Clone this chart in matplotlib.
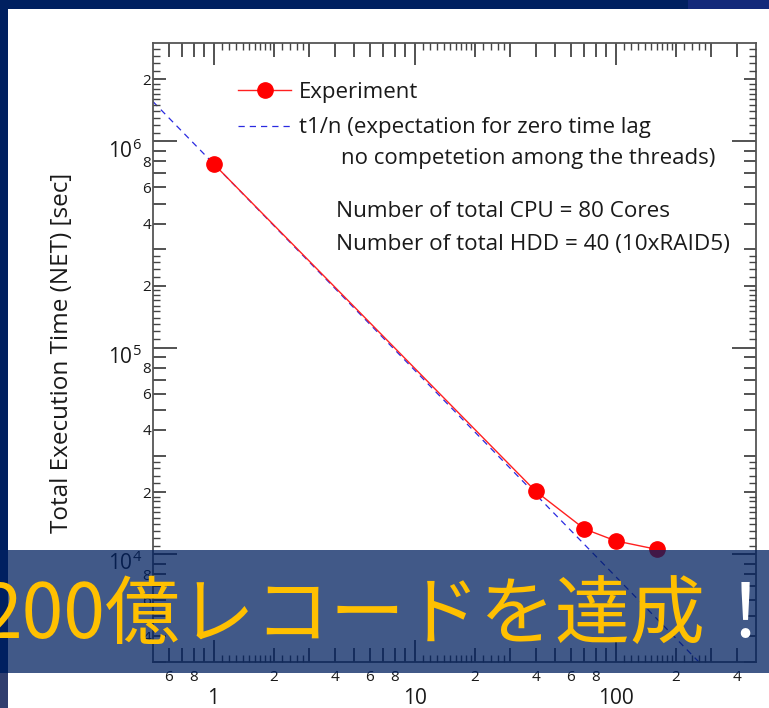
import matplotlib
matplotlib.use('Agg')
import matplotlib.pyplot as plt
from matplotlib.patches import Rectangle
import matplotlib.transforms as mtransforms

# ---- data ----
threads = [1, 40, 70, 100, 160]
exec_time = [7.8e5, 2.02e4, 1.325e4, 1.16e4, 1.055e4]
expect_n = [0.5, 500]
expect_t = [1.56e6, 1.56e3]

x_major = [1, 10, 100]
x_major_labels = ['1', '10', '100']
x_mid = [0.6, 0.7, 0.8, 0.9, 2, 3, 4, 5, 6, 7, 8, 9,
         20, 30, 40, 50, 60, 70, 80, 90, 200, 300, 400]
x_mid_labels = ['6', '', '8', '', '2', '', '4', '', '6', '', '8', '',
                '2', '', '4', '', '6', '', '8', '', '2', '', '4']
x_tiny = [1.1, 1.2, 1.3, 1.4, 1.5, 1.6, 1.7, 1.8, 1.9, 2.2, 2.4, 2.6, 2.8,
          11, 12, 13, 14, 15, 16, 17, 18, 19, 22, 24, 26, 28,
          110, 120, 130, 140, 150, 160, 170, 180, 190, 220, 240, 260, 280]

y_major = [1e4, 1e5, 1e6]
y_major_labels = [r'$\mathregular{10^{4}}$', r'$\mathregular{10^{5}}$', r'$\mathregular{10^{6}}$']
y_mid = [3e3, 4e3, 5e3, 6e3, 7e3, 8e3, 9e3,
         2e4, 3e4, 4e4, 5e4, 6e4, 7e4, 8e4, 9e4,
         2e5, 3e5, 4e5, 5e5, 6e5, 7e5, 8e5, 9e5, 2e6]
y_mid_labels = ['', '4', '', '6', '', '8', '',
                '2', '', '4', '', '6', '', '8', '',
                '2', '', '4', '', '6', '', '8', '', '2']
y_tiny = [1.1e4, 1.2e4, 1.3e4, 1.4e4, 1.5e4, 1.6e4, 1.7e4, 1.8e4, 1.9e4,
          2.2e4, 2.4e4, 2.6e4, 2.8e4,
          1.1e5, 1.2e5, 1.3e5, 1.4e5, 1.5e5, 1.6e5, 1.7e5, 1.8e5, 1.9e5,
          2.2e5, 2.4e5, 2.6e5, 2.8e5,
          1.1e6, 1.2e6, 1.3e6, 1.4e6, 1.5e6, 1.6e6, 1.7e6, 1.8e6, 1.9e6,
          2.2e6, 2.4e6, 2.6e6, 2.8e6]

plt.rcParams['font.family'] = ['Open Sans', 'DejaVu Sans']
plt.rcParams['mathtext.fontset'] = 'custom'
plt.rcParams['mathtext.rm'] = 'Open Sans'

W, H = 769, 708
fig = plt.figure(figsize=(W / 100, H / 100), dpi=100)
fig.patch.set_facecolor('white')

pos = [153 / W, 1 - 662 / H, 603 / W, 619 / H]
ax = fig.add_axes(pos)
ax.set_xscale('log')
ax.set_yscale('log')

tick_col = '#444444'
txt_col = '#1a1a1a'
for s in ax.spines.values():
    s.set_color('#555555')
    s.set_linewidth(1.3)

ax.set_xticks(x_major)
ax.set_xticklabels(x_major_labels)
ax.set_xticks(x_mid, minor=True)
ax.set_xticklabels(x_mid_labels, minor=True)
ax.set_yticks(y_major)
ax.set_yticklabels(y_major_labels)
ax.set_yticks(y_mid, minor=True)
ax.set_yticklabels(y_mid_labels, minor=True)
ax.set_xlim(0.5, 500)
ax.set_ylim(3e3, 3e6)

ax.tick_params(axis='both', which='both', direction='in', top=True, right=True,
               color=tick_col, labelcolor=txt_col, labelsize=11, width=1.3)
ax.tick_params(axis='x', which='major', length=16, pad=19, labelsize=15)
ax.tick_params(axis='x', which='minor', length=10, pad=6)
ax.tick_params(axis='y', which='major', length=17, pad=8, labelsize=15)
ax.tick_params(axis='y', which='minor', length=9, pad=1.5)

# shift major y labels down a bit like the reference
off = mtransforms.ScaledTranslation(0, -5 / 72, fig.dpi_scale_trans)
for t in ax.yaxis.get_major_ticks():
    t.label1.set_transform(t.label1.get_transform() + off)

# tiny ticks on an overlay axes
ax2 = fig.add_axes(pos, frameon=False)
ax2.set_xscale('log')
ax2.set_yscale('log')
ax2.set_xticks(x_tiny)
ax2.set_yticks(y_tiny)
ax2.minorticks_off()
ax2.set_xlim(0.5, 500)
ax2.set_ylim(3e3, 3e6)
ax2.tick_params(axis='both', which='both', direction='in', top=True, right=True,
                length=5, width=1.0, color=tick_col,
                labelbottom=False, labelleft=False)
ax2.patch.set_visible(False)

# data
ax.plot(expect_n, expect_t, color='#2a2ae0', lw=0.9, ls=(0, (5, 4)),
        label='t1/n (expectation for zero time lag', zorder=2)
ax.plot(threads, exec_time, color='#ff2020', lw=1.0, marker='o', ms=11,
        mfc='#ff0000', mec='#ff0000', label='Experiment', zorder=3)

h, l = ax.get_legend_handles_labels()
leg = ax.legend([h[1], h[0]], [l[1], l[0]], loc='upper left',
                bbox_to_anchor=(0.141, 0.9375), frameon=False, fontsize=16,
                handlelength=2.4, handletextpad=0.35, labelspacing=0.66,
                borderpad=0, borderaxespad=0)
for t in leg.get_texts():
    t.set_color(txt_col)

ax.text(0.312, 0.814, 'no competetion among the threads)', transform=ax.transAxes,
        fontsize=16, color=txt_col, va='center', ha='left')
ax.text(0.3035, 0.727, 'Number of total CPU = 80 Cores', transform=ax.transAxes,
        fontsize=16.2, color=txt_col, va='center', ha='left')
ax.text(0.3035, 0.675, 'Number of total HDD = 40 (10xRAID5)', transform=ax.transAxes,
        fontsize=16.2, color=txt_col, va='center', ha='left')

ax.set_ylabel('Total Execution Time (NET) [sec]', fontsize=17.5, color=txt_col)
ax.yaxis.set_label_coords(-0.131, 0.5)

# slide decorations
navy = '#002060'
fig.add_artist(Rectangle((0, 1 - 9 / H), 1, 9 / H, transform=fig.transFigure,
                         facecolor=navy, edgecolor='none', zorder=5))
fig.add_artist(Rectangle((688 / W, 1 - 9 / H), 1, 9 / H, transform=fig.transFigure,
                         facecolor='#13297a', edgecolor='none', zorder=5))
fig.add_artist(Rectangle((0, 1 - 673 / H), 8 / W, 673 / H, transform=fig.transFigure,
                         facecolor=navy, edgecolor='none', zorder=5))
fig.add_artist(Rectangle((0, 0), 8 / W, 1 - 673 / H, transform=fig.transFigure,
                         facecolor='#303e6e', edgecolor='none', zorder=5))
fig.add_artist(Rectangle((0, 1 - 673 / H), 1, 123 / H, transform=fig.transFigure,
                         facecolor=navy, edgecolor='none', alpha=0.745, zorder=10))
fig.text(705 / W, 1 - 616 / H, '200億レコードを達成', fontsize=54, color='#ffc000',
         ha='right', va='center', zorder=11,
         family=['Noto Sans CJK JP', 'DejaVu Sans'])
fig.text(745 / W, 1 - 616 / H, '！', fontsize=54, color='white',
         ha='center', va='center', zorder=11,
         family=['Noto Sans CJK JP', 'DejaVu Sans'])

fig.savefig('out.png', dpi=100)
